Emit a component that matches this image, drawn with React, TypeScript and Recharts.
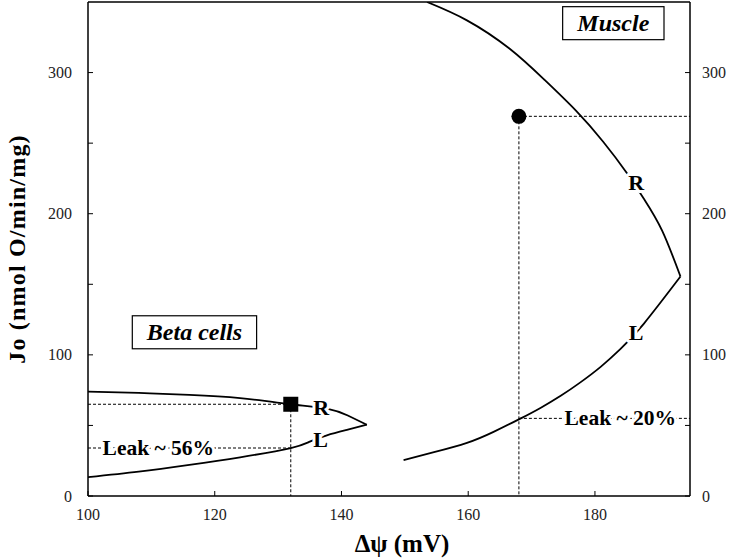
import { useLayoutEffect, useRef, useState } from 'react';
import {
  ComposedChart, Line, Scatter,
  XAxis, YAxis, ReferenceLine,
} from 'recharts';

const FONT = "'Liberation Serif', 'Times New Roman', serif";
const INK = '#000';

// Force–flow curves, each branch ordered by increasing Δψ
const betaR = [
  { x: 100, y: 74 }, { x: 108, y: 73 }, { x: 116, y: 71.6 }, { x: 124, y: 69.3 },
  { x: 132, y: 65 }, { x: 138, y: 61.5 }, { x: 141, y: 57 }, { x: 144, y: 50.5 },
];
const betaL = [
  { x: 100, y: 13.3 }, { x: 108, y: 17.2 }, { x: 116, y: 22 }, { x: 124, y: 27.4 },
  { x: 132, y: 34 }, { x: 135, y: 38.5 }, { x: 137.7, y: 43 }, { x: 141, y: 47 },
  { x: 144, y: 50.5 },
];
const muscleR = [
  { x: 153.5, y: 350 }, { x: 159.8, y: 337 }, { x: 166.5, y: 317 }, { x: 172, y: 295 },
  { x: 177, y: 273 }, { x: 181.3, y: 251 }, { x: 185, y: 229 }, { x: 187.8, y: 210 },
  { x: 190.6, y: 188 }, { x: 193.5, y: 155.5 },
];
const muscleL = [
  { x: 149.8, y: 25.5 }, { x: 154.6, y: 31 }, { x: 159.8, y: 37.6 }, { x: 164, y: 45.4 },
  { x: 168.3, y: 55 }, { x: 171.4, y: 62.4 }, { x: 174.6, y: 71 }, { x: 177.7, y: 80.5 },
  { x: 180.9, y: 91.5 }, { x: 184, y: 104 }, { x: 187.7, y: 122 }, { x: 193.5, y: 155.5 },
];

// operating points
const betaPoint = [{ x: 132, y: 65 }];
const musclePoint = [{ x: 168, y: 269 }];

// dashed guide segments
const guides = [
  [{ x: 100, y: 65 }, { x: 132, y: 65 }],
  [{ x: 132, y: 65 }, { x: 132, y: 0 }],
  [{ x: 100, y: 34 }, { x: 132, y: 34 }],
  [{ x: 168, y: 269 }, { x: 195, y: 269 }],
  [{ x: 168, y: 269 }, { x: 168, y: 0 }],
  [{ x: 168, y: 55 }, { x: 195, y: 55 }],
];

const branchLabels = [
  { x: 136.8, y: 63, text: 'R' }, { x: 136.7, y: 40, text: 'L' },
  { x: 186.5, y: 222, text: 'R' }, { x: 186.5, y: 116, text: 'L' },
];
const leakLabels = [
  { x: 111.1, y: 34, text: 'Leak ~ 56%' },
  { x: 184, y: 55, text: 'Leak ~ 20%' },
];
const boxLabels = [
  { x: 116.8, y: 116, text: 'Beta cells' },
  { x: 182.9, y: 335, text: 'Muscle' },
];

const xTicks = [100, 120, 140, 160, 180];
const topTicks = [120, 140, 160, 180];
const yTicks = [0, 50, 100, 150, 200, 250, 300];

const yFmt = (v: number) => (v % 100 === 0 ? String(v) : '');

function AxisTick(props: any) {
  const { x, y, payload, textAnchor, side } = props;
  const label = side === 'bottom' ? String(payload.value) : yFmt(payload.value);
  if (!label) return null;
  return (
    <text
      x={x}
      y={y}
      textAnchor={textAnchor}
      dominantBaseline={side === 'bottom' ? 'hanging' : 'central'}
      fontFamily={FONT}
      fontSize={16}
      fill="#222"
    >
      {label}
    </text>
  );
}

function HaloText({ cx, cy, text, size }: { cx: number; cy: number; text: string; size: number }) {
  return (
    <text
      x={cx}
      y={cy}
      textAnchor="middle"
      dominantBaseline="central"
      fontFamily={FONT}
      fontWeight="bold"
      fontSize={size}
      fill={INK}
      stroke="#fff"
      strokeWidth={6}
      strokeLinejoin="round"
      paintOrder="stroke"
    >
      {text}
    </text>
  );
}

function BoxLabel({ cx, cy, text }: { cx: number; cy: number; text: string }) {
  const ref = useRef<SVGTextElement>(null);
  const [w, setW] = useState(0);
  useLayoutEffect(() => {
    if (ref.current) setW(ref.current.getBBox().width);
  }, [text]);
  const bw = w + 28;
  const bh = 33;
  return (
    <g>
      <rect x={cx - bw / 2} y={cy - bh / 2} width={bw} height={bh} fill="#fff" stroke={INK} strokeWidth={1.2} />
      <text
        ref={ref}
        x={cx}
        y={cy}
        textAnchor="middle"
        dominantBaseline="central"
        fontFamily={FONT}
        fontWeight="bold"
        fontStyle="italic"
        fontSize={24}
        fill={INK}
      >
        {text}
      </text>
    </g>
  );
}

export default function App() {
  return (
    <div style={{ position: 'absolute', left: 0, top: 0 }}>
      <ComposedChart width={729} height={558} margin={{ top: 0, right: 0, bottom: 0, left: 0 }}>
        <XAxis
          dataKey="x"
          type="number"
          domain={[100, 195]}
          allowDataOverflow
          ticks={xTicks}
          height={62}
          tickSize={-5}
          tickMargin={18}
          tick={<AxisTick side="bottom" />}
          axisLine={{ stroke: INK, strokeWidth: 1.5 }}
          tickLine={{ stroke: INK }}
          label={{
            content: ({ viewBox }: any) => (
              <text
                x={viewBox.x + viewBox.width / 2 + 13}
                y={viewBox.y + viewBox.height - 6}
                textAnchor="middle"
                fontFamily={FONT}
                fontWeight="bold"
                fontSize={25}
                fill={INK}
              >
                Δψ (mV)
              </text>
            ),
          }}
        />
        <XAxis
          xAxisId="top"
          orientation="top"
          dataKey="x"
          type="number"
          domain={[100, 195]}
          allowDataOverflow
          ticks={topTicks}
          height={2}
          tickSize={-5}
          tick={false}
          axisLine={{ stroke: INK, strokeWidth: 1.5 }}
          tickLine={{ stroke: INK }}
        />
        <YAxis
          type="number"
          domain={[0, 350]}
          allowDataOverflow
          ticks={yTicks}
          width={88}
          tickSize={-5}
          tickMargin={21}
          tick={<AxisTick side="left" />}
          axisLine={{ stroke: INK, strokeWidth: 1.5 }}
          tickLine={{ stroke: INK }}
          label={{
            content: ({ viewBox }: any) => {
              const x = viewBox.x + 25;
              const y = viewBox.y + viewBox.height / 2;
              return (
                <text
                  x={x}
                  y={y}
                  transform={`rotate(-90 ${x} ${y})`}
                  textAnchor="middle"
                  fontFamily={FONT}
                  fontWeight="bold"
                  fontSize={24}
                  letterSpacing={1.2}
                  fill={INK}
                >
                  Jo (nmol O/min/mg)
                </text>
              );
            },
          }}
        />
        <YAxis
          yAxisId="right"
          orientation="right"
          type="number"
          domain={[0, 350]}
          allowDataOverflow
          ticks={yTicks}
          width={39}
          tickSize={-5}
          tickMargin={17}
          tick={<AxisTick side="right" />}
          axisLine={{ stroke: INK, strokeWidth: 1.5 }}
          tickLine={{ stroke: INK }}
        />

        {guides.map((seg, i) => (
          <ReferenceLine
            key={i}
            segment={seg}
            stroke={INK}
            strokeWidth={1}
            strokeDasharray="3 2"
            ifOverflow="visible"
          />
        ))}

        {[betaR, betaL, muscleR, muscleL].map((d, i) => (
          <Line
            key={i}
            data={d}
            dataKey="y"
            type="natural"
            stroke={INK}
            strokeWidth={1.8}
            dot={false}
            activeDot={false}
            isAnimationActive={false}
            legendType="none"
          />
        ))}

        <Scatter
          data={betaPoint}
          dataKey="y"
          isAnimationActive={false}
          shape={(p: any) => <rect x={p.cx - 7.5} y={p.cy - 7.5} width={15} height={15} fill={INK} />}
        />
        <Scatter
          data={musclePoint}
          dataKey="y"
          isAnimationActive={false}
          shape={(p: any) => <circle cx={p.cx} cy={p.cy} r={7.5} fill={INK} />}
        />
        <Scatter
          data={leakLabels}
          dataKey="y"
          isAnimationActive={false}
          shape={(p: any) => <HaloText cx={p.cx} cy={p.cy} text={p.payload.text} size={21.5} />}
        />
        <Scatter
          data={branchLabels}
          dataKey="y"
          isAnimationActive={false}
          shape={(p: any) => <HaloText cx={p.cx} cy={p.cy} text={p.payload.text} size={22} />}
        />
        <Scatter
          data={boxLabels}
          dataKey="y"
          isAnimationActive={false}
          shape={(p: any) => <BoxLabel cx={p.cx} cy={p.cy} text={p.payload.text} />}
        />
      </ComposedChart>
    </div>
  );
}
